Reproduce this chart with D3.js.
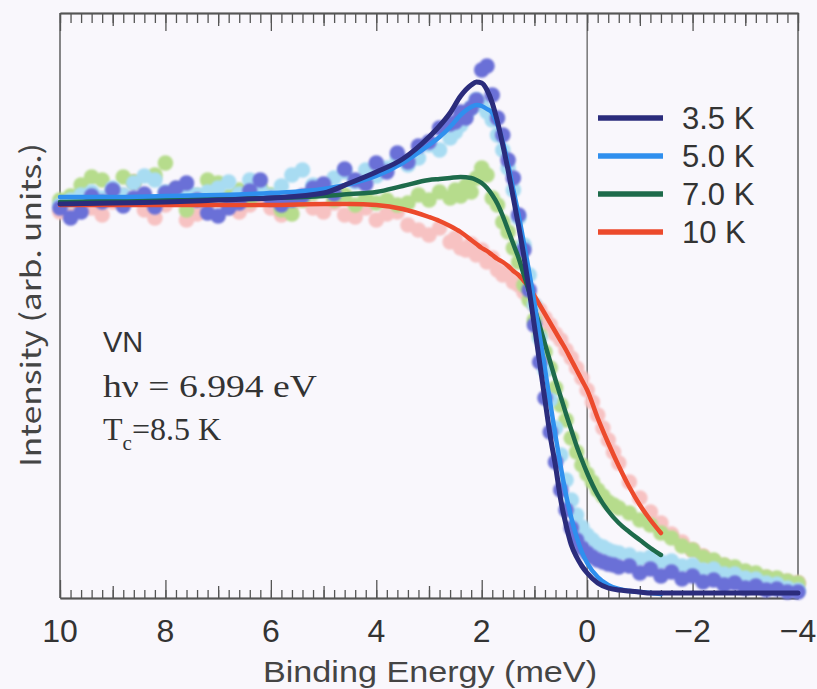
<!DOCTYPE html>
<html>
<head>
<meta charset="utf-8">
<script src="https://cdn.jsdelivr.net/npm/d3@7"></script>
<style>
  body { margin: 0; background: #f9f7fc; }
  svg { display: block; }
</style>
</head>
<body>
<svg width="817" height="689"></svg>
<script>
// measured energies (meV) shared by all four spectra
var energy = [10.0, 9.8, 9.6, 9.4, 9.2, 9.0, 8.8, 8.6, 8.4, 8.2, 8.0, 7.8, 7.6, 7.4, 7.2, 7.0, 6.8, 6.6, 6.4, 6.2,
  6.0, 5.8, 5.6, 5.4, 5.2, 5.0, 4.8, 4.6, 4.4, 4.2, 4.0, 3.8, 3.6, 3.4, 3.2, 3.0, 2.8, 2.6,
  2.5, 2.4, 2.3, 2.2, 2.1, 2.0, 1.9, 1.8, 1.7, 1.6, 1.5, 1.4, 1.3, 1.2, 1.1, 1.0, 0.9, 0.8, 0.7, 0.6,
  0.5, 0.4, 0.3, 0.2, 0.1, 0.0, -0.1, -0.2, -0.3, -0.4, -0.5, -0.6,
  -0.8, -1.0, -1.2, -1.4, -1.6, -1.8, -2.0, -2.2, -2.4, -2.6, -2.8, -3.0, -3.2, -3.4, -3.6, -3.8, -4.0];

var pts35 = [78.0, 76.0, 77.2, 80.4, 79.2, 81.6, 78.4, 80.0, 80.8, 78.2, 81.0, 82.0, 83.0, 79.6, 77.0, 76.4, 78.0, 79.0, 81.4, 83.6,
  79.8, 78.6, 79.6, 80.4, 82.0, 82.8, 80.8, 85.8, 83.6, 82.8, 87.0, 85.2, 89.0, 87.2, 90.4, 91.2, 94.0, 94.8,
  95.2, 97.2, 96.0, 98.0, 99.6, 105.6, 106.4, 100.6, 96.0, 92.6, 87.6, 84.0, 76.6, 69.6, 61.6, 54.6, 47.2, 40.0, 33.2, 27.2,
  21.6, 17.6, 14.0, 11.6, 10.0, 9.0, 8.2, 7.6, 7.2, 6.8, 6.6, 6.2,
  6.4, 5.0, 5.8, 4.4, 5.2, 3.8, 4.4, 3.2, 3.6, 2.6, 3.0, 2.0, 2.4, 1.6, 1.8, 1.2, 1.2];

var pts50 = [78.6, 79.6, 80.6, 81.2, 80.0, 82.0, 80.6, 83.0, 84.4, 83.6, 81.2, 80.0, 81.6, 80.6, 81.2, 82.0, 83.2, 80.8, 83.6, 81.6,
  80.4, 82.4, 84.6, 85.6, 82.6, 82.0, 84.0, 85.2, 83.2, 85.6, 84.4, 86.0, 88.0, 86.6, 88.0, 90.6, 89.6, 92.0,
  93.2, 94.6, 96.6, 98.0, 99.6, 98.6, 97.2, 95.6, 92.6, 89.6, 86.0, 81.6, 76.0, 70.6, 64.6, 58.6, 52.0, 45.6, 39.6, 34.0,
  28.6, 23.6, 19.6, 16.6, 14.2, 12.6, 11.6, 10.6, 10.2, 9.6, 9.2, 9.0,
  8.6, 7.8, 8.2, 7.2, 7.4, 6.4, 6.6, 5.6, 5.8, 4.8, 4.8, 4.0, 3.8, 3.0, 2.8, 2.0, 1.6];

var pts70 = [79.6, 80.4, 82.6, 84.2, 83.6, 81.2, 84.2, 83.2, 80.0, 84.6, 87.0, 81.6, 77.6, 80.4, 83.6, 83.0, 80.4, 81.6, 79.6, 82.0,
  80.6, 77.6, 76.8, 79.6, 81.0, 81.6, 79.6, 80.6, 78.6, 80.0, 79.0, 79.6, 78.6, 79.0, 80.6, 79.6, 81.2, 80.0,
  81.6, 80.4, 82.4, 81.2, 84.0, 86.0, 84.6, 80.0, 78.6, 75.2, 73.2, 70.0, 67.2, 62.6, 59.6, 55.6, 52.6, 49.2, 46.0, 42.0,
  38.6, 35.6, 32.0, 29.2, 26.6, 24.8, 23.2, 21.6, 20.4, 19.2, 18.6, 18.0,
  17.0, 15.6, 14.6, 13.0, 12.0, 10.4, 9.6, 8.2, 7.6, 6.6, 6.2, 5.4, 5.0, 4.2, 4.0, 3.4, 3.0];

var pts10 = [77.2, 78.6, 79.6, 78.0, 76.6, 79.2, 80.4, 83.2, 77.6, 76.0, 78.6, 80.0, 75.6, 76.8, 79.0, 80.4, 78.6, 77.2, 78.6, 80.0,
  78.0, 76.6, 78.6, 79.6, 78.0, 77.2, 79.0, 76.6, 76.2, 78.0, 75.6, 76.8, 77.2, 74.6, 73.6, 72.6, 74.0, 71.2,
  72.0, 70.0, 69.6, 70.8, 68.6, 69.6, 67.2, 68.0, 65.6, 64.6, 65.2, 63.2, 62.6, 61.2, 60.6, 58.6, 57.6, 56.0, 54.6, 52.8,
  51.6, 49.6, 48.0, 46.0, 44.0, 41.6, 39.2, 36.6, 34.0, 31.6, 29.2, 27.0,
  23.2, 20.0, 17.2, 15.0, 12.8, 11.2, 9.6, 8.4, 7.2, 6.4, 5.6, 5.0, 4.4, 4.0, 3.6, 3.2, 3.0];

// fitted curves
var fitEnergy = [10, 9, 8, 7, 6, 5, 4.5, 4, 3.5, 3, 2.8, 2.6, 2.4, 2.2, 2.1, 2.0, 1.9, 1.8, 1.7, 1.6, 1.5, 1.4, 1.3, 1.2, 1.1, 1.0,
  0.9, 0.8, 0.7, 0.6, 0.5, 0.4, 0.3, 0.2, 0.1, 0, -0.2, -0.4, -0.6, -0.8, -1.0, -1.2, -1.4, -2, -3, -4];

var fit35 = [78.8, 79.0, 79.2, 79.6, 80.0, 81.0, 83.0, 85.2, 87.8, 92.2, 94.4, 97.0, 100.4, 102.6, 103.2, 103.0, 101.6, 99.0, 95.2, 90.6,
  85.6, 80.0, 74.4, 68.4, 61.6, 54.4, 47.0, 39.6, 32.4, 26.4, 19.6, 14.6, 10.6, 8.2, 6.4, 5.0, 3.0, 2.0, 1.6, 1.4,
  1.2, 1.0, 1.0, 1.0, 1.0, 1.0];
var fit50 = [80.2, 80.2, 80.4, 80.6, 81.0, 81.8, 82.8, 84.4, 87.0, 90.6, 92.2, 94.2, 96.6, 98.2, 98.6, 98.4, 97.8, 97.0, 94.6, 91.2,
  86.8, 81.6, 76.6, 71.0, 65.2, 59.0, 52.4, 45.8, 39.0, 32.4, 26.2, 20.6, 16.0, 12.2, 9.2, 7.0, 4.2, 2.6, 1.8, 1.4,
  1.2, 1.0, 0.8, null, null, null];
var fit70 = [79.2, 79.4, 79.6, 79.8, 80.0, 80.4, 80.8, 81.2, 82.4, 83.6, 83.8, 84.0, 84.2, 84.0, 83.6, 83.0, 82.0, 80.6, 78.8, 76.4,
  73.6, 70.8, 68.0, 64.6, 61.2, 58.0, 54.4, 50.8, 47.2, 43.6, 40.2, 36.8, 33.6, 30.4, 27.6, 25.0, 20.6, 17.4, 15.0, 13.2,
  11.6, 10.0, 8.6, null, null, null];
var fit10 = [78.6, 78.6, 78.6, 78.6, 78.6, 78.8, 78.8, 78.6, 77.8, 76.2, 75.4, 74.4, 73.2, 71.6, 70.8, 70.0, 69.4, 68.6, 67.8, 67.2,
  66.4, 65.4, 64.6, 63.4, 62.2, 60.4, 58.6, 56.8, 55.0, 53.2, 51.4, 49.6, 47.6, 45.6, 43.6, 41.6, 36.0, 31.0, 26.4, 22.2,
  18.6, 15.6, 13.0, null, null, null];

var labels = ["3.5 K", "5.0 K", "7.0 K", "10 K"];
var lineColors = ["#2b2c7c", "#2f8fee", "#1e6b4b", "#ec4a2c"];
var dotColors = ["#6b70d7", "#a8dcf2", "#b6dc8c", "#f7c2c2"];
var xTicks = [10, 8, 6, 4, 2, 0, -2, -4];

var svg = d3.select("svg");
var plotLeft = 60, plotRight = 798, plotTop = 13, plotBottom = 598;

var x = d3.scaleLinear().domain([10, -4]).range([plotLeft, plotRight]);
var y = d3.scaleLinear().domain([0, 117]).range([plotBottom, plotTop]);

var series = [pts35, pts50, pts70, pts10];
var fits = [fit35, fit50, fit70, fit10];

// soft edge on the dots, like the scanned figure
svg.append("defs").append("filter")
  .attr("id", "soft")
  .append("feGaussianBlur")
  .attr("stdDeviation", 0.9);

// frame and the Fermi level line
var axisColor = "#555";
svg.append("line").attr("x1", plotLeft).attr("x2", plotLeft).attr("y1", plotTop).attr("y2", plotBottom)
  .attr("stroke", axisColor).attr("stroke-width", 1.4);
svg.append("line").attr("x1", plotRight).attr("x2", plotRight).attr("y1", plotTop).attr("y2", plotBottom)
  .attr("stroke", axisColor).attr("stroke-width", 1.4);
svg.append("line").attr("x1", x(0)).attr("x2", x(0)).attr("y1", plotTop).attr("y2", plotBottom)
  .attr("stroke", axisColor).attr("stroke-width", 1.2);

// ticks: minor every 0.2, mid at odd numbers, major at even numbers
var minorTicks = d3.range(-4, 10.001, 0.2).map(function(d) { return Math.round(d * 10) / 10; });
var midTicks = [9, 7, 5, 3, 1, -1, -3];

function drawTicks(axisFn, yPos, vals, size) {
  var g = svg.append("g").attr("transform", "translate(0," + yPos + ")")
    .call(axisFn(x).tickValues(vals).tickSize(size).tickSizeOuter(0).tickFormat(""));
  g.selectAll("line").attr("stroke", axisColor).attr("stroke-width", 1.3);
  g.select(".domain").attr("stroke", axisColor).attr("stroke-width", 1.4);
  return g;
}
drawTicks(d3.axisBottom, plotBottom, minorTicks, -8);
drawTicks(d3.axisBottom, plotBottom, midTicks, -12);
drawTicks(d3.axisBottom, plotBottom, xTicks, -18);
drawTicks(d3.axisTop, plotTop, minorTicks, -10);
drawTicks(d3.axisTop, plotTop, midTicks, -13);
drawTicks(d3.axisTop, plotTop, xTicks, -18);

svg.selectAll(".xlab")
  .data(xTicks)
  .enter().append("text")
  .attr("class", "xlab")
  .attr("x", function(d) { return x(d); })
  .attr("y", 642)
  .attr("text-anchor", "middle")
  .style("font-family", "'Liberation Sans', Arial, sans-serif")
  .style("font-size", "32px")
  .style("fill", "#333")
  .text(function(d) { return d < 0 ? "\u2212" + (-d) : d; });

svg.append("text")
  .attr("x", (plotLeft + plotRight) / 2 + 1)
  .attr("y", 682)
  .attr("text-anchor", "middle")
  .attr("textLength", 334)
  .attr("lengthAdjust", "spacingAndGlyphs")
  .style("font-family", "'Liberation Sans', Arial, sans-serif")
  .style("font-size", "29px")
  .style("fill", "#444")
  .text("Binding Energy (meV)");

svg.append("text")
  .attr("transform", "translate(41,305) rotate(-90)")
  .attr("text-anchor", "middle")
  .attr("textLength", 324)
  .attr("lengthAdjust", "spacingAndGlyphs")
  .style("font-family", "'Noto Sans CJK JP', sans-serif")
  .style("font-size", "28px")
  .style("fill", "#444")
  .text("Intensity (arb. units.)");

// data points, warmest first so the 3.5 K dots sit on top
[3, 2, 1, 0].forEach(function(k) {
  svg.append("g")
    .attr("filter", "url(#soft)")
    .selectAll("circle")
    .data(series[k])
    .enter().append("circle")
    .attr("cx", function(d, i) { return x(energy[i]); })
    .attr("cy", function(d) { return y(d); })
    .attr("r", 7.8)
    .style("fill", dotColors[k]);
});

// fitted lines
var line = d3.line()
  .defined(function(d) { return d[1] !== null; })
  .x(function(d) { return x(d[0]); })
  .y(function(d) { return y(d[1]); })
  .curve(d3.curveMonotoneX);

[3, 2, 1, 0].forEach(function(k) {
  svg.append("path")
    .datum(fitEnergy.map(function(e, i) { return [e, fits[k][i]]; }))
    .attr("d", line)
    .attr("fill", "none")
    .attr("stroke", lineColors[k])
    .attr("stroke-width", k == 0 ? 5 : 4.5)
    .attr("stroke-linecap", "round");
});

// legend
var legend = svg.append("g");
labels.forEach(function(lab, i) {
  var ly = 118 + i * 38;
  legend.append("line")
    .attr("x1", 598).attr("x2", 663).attr("y1", ly).attr("y2", ly)
    .attr("stroke", lineColors[i]).attr("stroke-width", 5.5);
  legend.append("text")
    .attr("x", 682).attr("y", ly + 11)
    .style("font-family", "'Liberation Sans', Arial, sans-serif")
    .style("font-size", "31px")
    .style("fill", "#333")
    .text(lab);
});

// sample notes
svg.append("text")
  .attr("x", 103).attr("y", 352)
  .style("font-family", "'Liberation Sans', Arial, sans-serif")
  .style("font-size", "29px")
  .style("fill", "#333")
  .text("VN");

svg.append("text")
  .attr("x", 103).attr("y", 397)
  .attr("textLength", 214)
  .attr("lengthAdjust", "spacingAndGlyphs")
  .style("font-family", "'Liberation Serif', 'Times New Roman', serif")
  .style("font-size", "32px")
  .style("fill", "#333")
  .text("h\u03bd = 6.994 eV");

var tc = svg.append("text")
  .attr("x", 103).attr("y", 440)
  .style("font-family", "'Liberation Serif', 'Times New Roman', serif")
  .style("font-size", "32px")
  .style("fill", "#333");
tc.append("tspan").text("T");
tc.append("tspan").attr("dy", 10).style("font-size", "21px").text("c");
tc.append("tspan").attr("dy", -10).text("=8.5 K");
</script>
</body>
</html>
